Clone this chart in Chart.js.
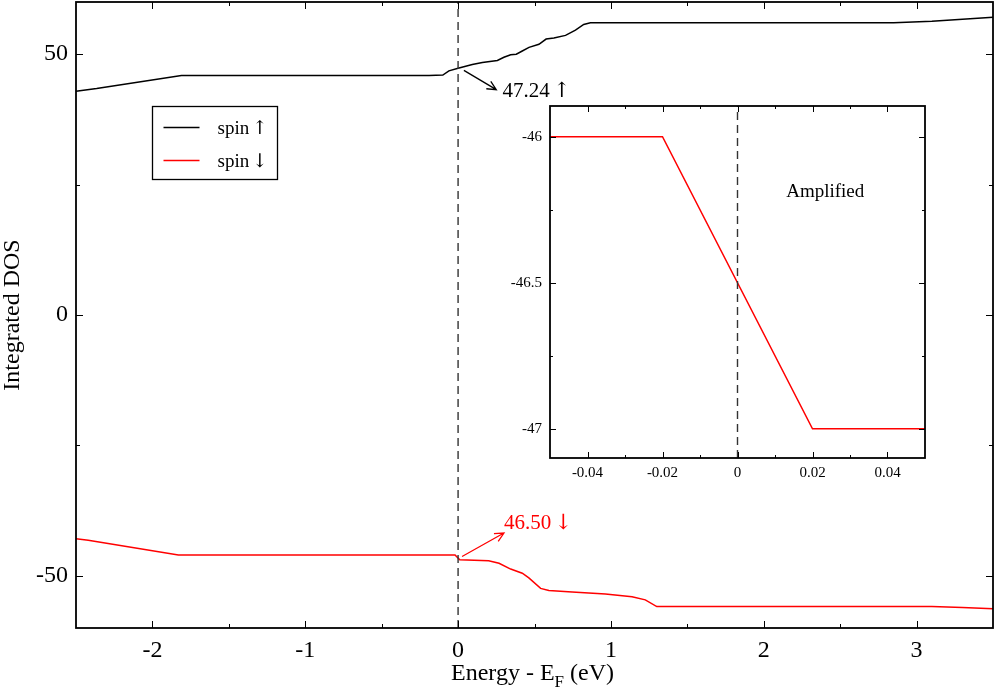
<!DOCTYPE html>
<html lang="en">
<head>
    <meta charset="utf-8">
    <title>Integrated DOS</title>
    <script src="https://cdn.jsdelivr.net/npm/chart.js@4.4.1/dist/chart.umd.min.js"></script>
    <style>
        body {
            margin: 0;
            background: #fff;
        }

        #wrap {
            position: relative;
            width: 997px;
            height: 693px;
        }

        #mainChart {
            position: absolute;
            left: 0;
            top: 0;
        }

        /* the zoomed panel sits on top of the big plot */
        #insetChart {
            position: absolute;
            left: 490px;
            top: 96px;
        }
    </style>
</head>
<body>
<div id="wrap">
    <canvas id="mainChart" width="997" height="693"></canvas>
    <canvas id="insetChart" width="445" height="392"></canvas>
</div>

<script>
    // integrated DOS, spin up
    var energyUp = [-2.5, -2.365, -1.81, -0.19, -0.10, -0.06, 0, 0.093, 0.159, 0.257, 0.30, 0.344, 0.381, 0.42,
        0.464, 0.529, 0.576, 0.627, 0.703, 0.768, 0.822, 0.866, 2.85, 3.1, 3.3, 3.5];
    var dosUp = [42.9, 43.4, 45.9, 45.9, 46.0, 46.8, 47.3, 48.0, 48.4, 48.8, 49.4, 49.9, 50.0, 50.6,
        51.3, 51.9, 52.9, 53.1, 53.6, 54.6, 55.7, 56.0, 56.0, 56.3, 56.7, 57.1];

    // integrated DOS, spin down
    var energyDown = [-2.5, -2.42, -1.83, -0.12, -0.02, 0.011, 0.20, 0.268, 0.344, 0.42, 0.463, 0.54, 0.594,
        0.746, 0.964, 1.138, 1.225, 1.30, 3.1, 3.3, 3.5];
    var dosDown = [-42.9, -43.2, -46.0, -46.0, -46.0, -46.9, -47.1, -47.6, -48.7, -49.5, -50.4, -52.4, -52.8,
        -53.1, -53.5, -54.0, -54.6, -55.9, -55.9, -56.05, -56.3];

    // inset: spin down around E_F, amplified
    var insetEnergy = [-0.05, -0.02, 0.02, 0.05];
    var insetDos = [-46, -46, -47, -47];

    // ticks and their labels ('' = minor tick)
    var mainXTicks = [-2, -1.5, -1, -0.5, 0, 0.5, 1, 1.5, 2, 2.5, 3];
    var mainXLabels = ['-2', '', '-1', '', '0', '', '1', '', '2', '', '3'];
    var mainYTicks = [-50, -25, 0, 25, 50];
    var mainYLabels = ['-50', '', '0', '', '50'];
    var insetXTicks = [-0.04, -0.03, -0.02, -0.01, 0, 0.01, 0.02, 0.03, 0.04];
    var insetXLabels = ['-0.04', '', '-0.02', '', '0', '', '0.02', '', '0.04'];
    var insetYTicks = [-47, -46.75, -46.5, -46.25, -46];
    var insetYLabels = ['-47', '', '-46.5', '', '-46'];

    // annotations at E_F
    var upNote = {text: '47.24', sign: '\u2191', from: [0.038, 46.9], to: [0.25, 43.2], at: [0.29, 41.8], color: '#000'};
    var downNote = {text: '46.50', sign: '\u2193', from: [0.026, -46.3], to: [0.30, -41.8], at: [0.30, -41.05], color: '#ff0000'};

    var serif = "'Liberation Serif', 'Times New Roman', serif";
    var arrowFont = "'DejaVu Serif', serif";

    function points(xs, ys) {
        return xs.map(function (x, i) {
            return {x: x, y: ys[i]};
        });
    }

    function fixedTicks(list) {
        return function (scale) {
            scale.ticks = list.map(function (v) {
                return {value: v};
            });
        };
    }

    // no extra room at the ends of the axes, chart area is set by hand
    function fitWidth(w) {
        return function (s) {
            s.width = w;
            s.paddingTop = 0;
            s.paddingBottom = 0;
        };
    }

    function fitHeight(h) {
        return function (s) {
            s.height = h;
            s.paddingLeft = 0;
            s.paddingRight = 0;
        };
    }

    // inward ticks on all four sides plus the frame
    var frameTicks = {
        id: 'frameTicks',
        afterDatasetsDraw: function (chart, args, opts) {
            var ctx = chart.ctx;
            var a = chart.chartArea;
            var xs = chart.scales.x;
            var ys = chart.scales.y;
            ctx.save();
            ctx.strokeStyle = '#000';
            ctx.lineWidth = 1;
            ctx.beginPath();
            xs.ticks.forEach(function (t) {
                var p = Math.round(xs.getPixelForValue(t.value)) + 0.5;
                var len = t.label ? opts.major : opts.minor;
                ctx.moveTo(p, a.bottom);
                ctx.lineTo(p, a.bottom - len);
                ctx.moveTo(p, a.top);
                ctx.lineTo(p, a.top + len);
            });
            ys.ticks.forEach(function (t) {
                var p = Math.round(ys.getPixelForValue(t.value)) + 0.5;
                var len = t.label ? opts.major : opts.minor;
                ctx.moveTo(a.left, p);
                ctx.lineTo(a.left + len, p);
                ctx.moveTo(a.right, p);
                ctx.lineTo(a.right - len, p);
            });
            ctx.stroke();
            ctx.lineWidth = 1.8;
            ctx.strokeRect(a.left, a.top, a.right - a.left, a.bottom - a.top);
            ctx.restore();
        }
    };

    function arrow(ctx, x1, y1, x2, y2, color) {
        var ang = Math.atan2(y2 - y1, x2 - x1);
        var h = 10;
        ctx.strokeStyle = color;
        ctx.lineWidth = 1.3;
        ctx.beginPath();
        ctx.moveTo(x1, y1);
        ctx.lineTo(x2, y2);
        ctx.moveTo(x2 - h * Math.cos(ang - 0.45), y2 - h * Math.sin(ang - 0.45));
        ctx.lineTo(x2, y2);
        ctx.lineTo(x2 - h * Math.cos(ang + 0.45), y2 - h * Math.sin(ang + 0.45));
        ctx.stroke();
    }

    // text followed by a spin arrow in a font where the arrow is tall
    function textWithSign(ctx, text, sign, x, y, size) {
        ctx.font = size + 'px ' + serif;
        ctx.fillText(text + ' ', x, y);
        var w = ctx.measureText(text + ' ').width;
        ctx.font = size + 'px ' + arrowFont;
        ctx.fillText(sign, x + w - 2, y);
    }

    // arrows, values at E_F, legend box and x-axis title
    var mainExtras = {
        id: 'mainExtras',
        afterDraw: function (chart) {
            var ctx = chart.ctx;
            var xs = chart.scales.x;
            var ys = chart.scales.y;
            ctx.save();

            [upNote, downNote].forEach(function (n) {
                arrow(ctx, xs.getPixelForValue(n.from[0]), ys.getPixelForValue(n.from[1]),
                    xs.getPixelForValue(n.to[0]), ys.getPixelForValue(n.to[1]), n.color);
                ctx.fillStyle = n.color;
                ctx.textBaseline = 'alphabetic';
                ctx.textAlign = 'left';
                textWithSign(ctx, n.text, n.sign, xs.getPixelForValue(n.at[0]), ys.getPixelForValue(n.at[1]), 21);
            });

            // legend
            var lx = Math.round(xs.getPixelForValue(-2)) + 0.5;
            var ly = Math.round(ys.getPixelForValue(40)) + 0.5;
            ctx.strokeStyle = '#000';
            ctx.lineWidth = 1.3;
            ctx.strokeRect(lx, ly, 125, 73);
            var rows = chart.data.datasets.filter(function (d) {
                return d.inLegend;
            });
            rows.forEach(function (d, i) {
                var y = ly + 21 + i * 33;
                ctx.strokeStyle = d.borderColor;
                ctx.lineWidth = 1.3;
                ctx.beginPath();
                ctx.moveTo(lx + 11, y);
                ctx.lineTo(lx + 47, y);
                ctx.stroke();
                ctx.fillStyle = '#000';
                ctx.textBaseline = 'alphabetic';
                var parts = d.label.split(' ');
                textWithSign(ctx, parts[0], parts[1], lx + 65, y + 6, 19);
            });

            // x title with subscript
            var a = chart.chartArea;
            var big = '24px ' + serif;
            var small = '17px ' + serif;
            ctx.fillStyle = '#000';
            ctx.textBaseline = 'alphabetic';
            ctx.textAlign = 'left';
            ctx.font = big;
            var w1 = ctx.measureText('Energy - E').width;
            var w3 = ctx.measureText(' (eV)').width;
            ctx.font = small;
            var w2 = ctx.measureText('F').width;
            var x0 = (a.left + a.right) / 2 - (w1 + w2 + w3) / 2 - 2;
            var base = chart.height - 13;
            ctx.font = big;
            ctx.fillText('Energy - E', x0, base);
            ctx.font = small;
            ctx.fillText('F', x0 + w1, base + 7);
            ctx.font = big;
            ctx.fillText(' (eV)', x0 + w1 + w2, base);
            ctx.restore();
        }
    };

    var insetExtras = {
        id: 'insetExtras',
        beforeDraw: function (chart) {
            var a = chart.chartArea;
            chart.ctx.save();
            chart.ctx.fillStyle = '#fff';
            chart.ctx.fillRect(a.left, a.top, a.right - a.left, a.bottom - a.top);
            chart.ctx.restore();
        },
        afterDraw: function (chart) {
            var ctx = chart.ctx;
            ctx.save();
            ctx.fillStyle = '#000';
            ctx.font = '19px ' + serif;
            ctx.textAlign = 'center';
            ctx.textBaseline = 'middle';
            ctx.fillText('Amplified', chart.scales.x.getPixelForValue(0.0234), chart.scales.y.getPixelForValue(-46.19));
            ctx.restore();
        }
    };

    new Chart(document.getElementById('mainChart'), {
        type: 'line',
        data: {
            datasets: [{
                label: 'E_F',
                data: points([0, 0], [-60, 60]),
                borderColor: '#333',
                borderWidth: 1.4,
                borderDash: [8, 5],
                pointRadius: 0
            }, {
                label: 'spin \u2191',
                inLegend: true,
                data: points(energyUp, dosUp),
                borderColor: '#000',
                borderWidth: 1.5,
                pointRadius: 0,
                tension: 0
            }, {
                label: 'spin \u2193',
                inLegend: true,
                data: points(energyDown, dosDown),
                borderColor: '#ff0000',
                borderWidth: 1.5,
                pointRadius: 0,
                tension: 0
            }]
        },
        options: {
            responsive: false,
            animation: false,
            devicePixelRatio: 1,
            layout: {padding: {top: 2, right: 4, left: 0, bottom: 0}},
            plugins: {
                legend: {display: false},
                tooltip: {enabled: false},
                frameTicks: {major: 7, minor: 4}
            },
            scales: {
                x: {
                    type: 'linear',
                    min: -2.5,
                    max: 3.5,
                    afterBuildTicks: fixedTicks(mainXTicks),
                    afterFit: fitHeight(65),
                    grid: {display: false, drawTicks: false},
                    border: {display: false},
                    ticks: {
                        autoSkip: false,
                        maxRotation: 0,
                        padding: 8,
                        color: '#000',
                        font: {family: serif, size: 24},
                        callback: function (v, i) {
                            return mainXLabels[i];
                        }
                    }
                },
                y: {
                    type: 'linear',
                    min: -60,
                    max: 60,
                    afterBuildTicks: fixedTicks(mainYTicks),
                    afterFit: fitWidth(76),
                    grid: {display: false, drawTicks: false},
                    border: {display: false},
                    title: {
                        display: true,
                        text: 'Integrated DOS',
                        color: '#000',
                        padding: 0,
                        font: {family: serif, size: 24, lineHeight: 1.1}
                    },
                    ticks: {
                        autoSkip: false,
                        padding: 8,
                        color: '#000',
                        font: {family: serif, size: 24},
                        callback: function (v, i) {
                            return mainYLabels[i];
                        }
                    }
                }
            }
        },
        plugins: [frameTicks, mainExtras]
    });

    new Chart(document.getElementById('insetChart'), {
        type: 'line',
        data: {
            datasets: [{
                label: 'E_F',
                data: points([0, 0], [-47.1, -45.895]),
                borderColor: '#333',
                borderWidth: 1.4,
                borderDash: [8, 5],
                pointRadius: 0
            }, {
                label: 'spin \u2193',
                data: points(insetEnergy, insetDos),
                borderColor: '#ff0000',
                borderWidth: 1.5,
                pointRadius: 0,
                tension: 0
            }]
        },
        options: {
            responsive: false,
            animation: false,
            devicePixelRatio: 1,
            layout: {padding: {top: 10, right: 10, left: 0, bottom: 0}},
            plugins: {
                legend: {display: false},
                tooltip: {enabled: false},
                frameTicks: {major: 6, minor: 3}
            },
            scales: {
                x: {
                    type: 'linear',
                    min: -0.05,
                    max: 0.05,
                    afterBuildTicks: fixedTicks(insetXTicks),
                    afterFit: fitHeight(30),
                    grid: {display: false, drawTicks: false},
                    border: {display: false},
                    ticks: {
                        autoSkip: false,
                        maxRotation: 0,
                        padding: 6,
                        color: '#000',
                        font: {family: serif, size: 15},
                        callback: function (v, i) {
                            return insetXLabels[i];
                        }
                    }
                },
                y: {
                    type: 'linear',
                    min: -47.1,
                    max: -45.895,
                    afterBuildTicks: fixedTicks(insetYTicks),
                    afterFit: fitWidth(60),
                    grid: {display: false, drawTicks: false},
                    border: {display: false},
                    ticks: {
                        autoSkip: false,
                        padding: 8,
                        color: '#000',
                        font: {family: serif, size: 15},
                        callback: function (v, i) {
                            return insetYLabels[i];
                        }
                    }
                }
            }
        },
        plugins: [frameTicks, insetExtras]
    });
</script>
</body>
</html>
